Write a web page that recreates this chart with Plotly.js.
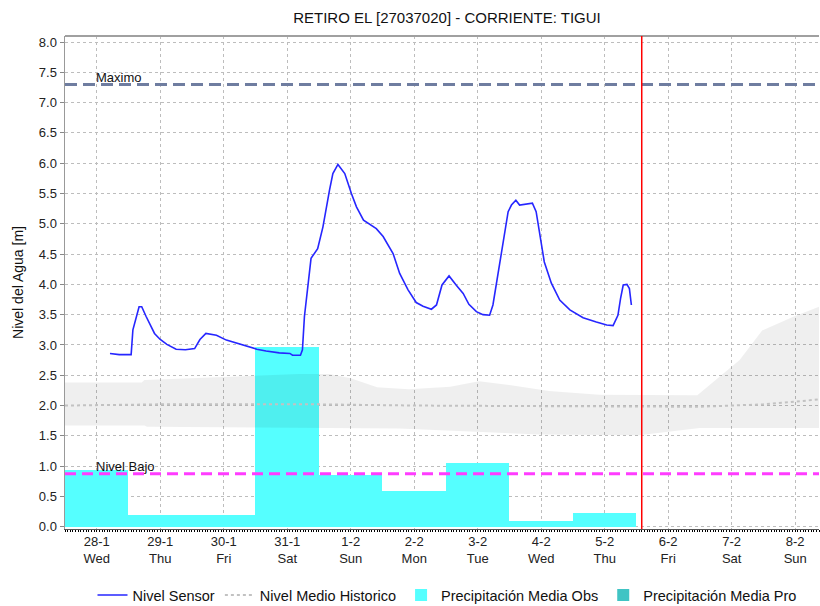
<!DOCTYPE html>
<html>
<head>
<meta charset="utf-8">
<script src="https://cdn.plot.ly/plotly-3.0.1.min.js"></script>
<style>html,body{margin:0;padding:0;background:#fff;}#chart{width:820px;height:606px;}</style>
</head>
<body>
<div id="chart"></div>
<script>
const chartTitle = "RETIRO EL [27037020] - CORRIENTE: TIGUI";
const yTitle = "Nivel del Agua [m]";

const tickDates = ["2015-01-28","2015-01-29","2015-01-30","2015-01-31","2015-02-01","2015-02-02","2015-02-03","2015-02-04","2015-02-05","2015-02-06","2015-02-07","2015-02-08"];
const tickDayMonth = ["28-1","29-1","30-1","31-1","1-2","2-2","3-2","4-2","5-2","6-2","7-2","8-2"];
const tickWeekday = ["Wed","Thu","Fri","Sat","Sun","Mon","Tue","Wed","Thu","Fri","Sat","Sun"];

const sensorTimes = ["2015-01-28 05:00","2015-01-28 08:30","2015-01-28 13:00","2015-01-28 13:40","2015-01-28 16:00","2015-01-28 17:00","2015-01-28 18:40","2015-01-28 21:50","2015-01-29 00:00","2015-01-29 02:30","2015-01-29 06:00","2015-01-29 09:30","2015-01-29 13:00","2015-01-29 15:00","2015-01-29 17:15","2015-01-29 21:15","2015-01-30 01:00","2015-01-30 04:50","2015-01-30 08:40","2015-01-30 12:30","2015-01-30 16:00","2015-01-30 21:00","2015-01-31 01:00","2015-01-31 02:00","2015-01-31 05:00","2015-01-31 05:45","2015-01-31 06:30","2015-01-31 07:10","2015-01-31 08:00","2015-01-31 09:00","2015-01-31 11:30","2015-01-31 13:30","2015-01-31 16:00","2015-01-31 17:15","2015-01-31 19:10","2015-01-31 21:45","2015-02-01 00:15","2015-02-01 02:10","2015-02-01 04:50","2015-02-01 09:40","2015-02-01 12:15","2015-02-01 16:00","2015-02-01 18:30","2015-02-01 21:40","2015-02-02 00:45","2015-02-02 03:20","2015-02-02 06:30","2015-02-02 08:25","2015-02-02 10:30","2015-02-02 13:10","2015-02-02 15:50","2015-02-02 18:30","2015-02-02 20:40","2015-02-02 23:30","2015-02-03 02:00","2015-02-03 04:30","2015-02-03 05:45","2015-02-03 07:00","2015-02-03 08:50","2015-02-03 10:20","2015-02-03 11:30","2015-02-03 12:45","2015-02-03 14:25","2015-02-03 15:50","2015-02-03 18:30","2015-02-03 20:40","2015-02-03 22:05","2015-02-03 23:30","2015-02-04 01:10","2015-02-04 03:50","2015-02-04 07:00","2015-02-04 10:50","2015-02-04 15:50","2015-02-04 20:50","2015-02-05 00:45","2015-02-05 03:10","2015-02-05 05:00","2015-02-05 06:00","2015-02-05 07:00","2015-02-05 08:25","2015-02-05 09:20","2015-02-05 10:05"];
const sensorLevels = [2.86,2.84,2.84,3.25,3.63,3.63,3.47,3.19,3.09,3.01,2.93,2.92,2.94,3.09,3.19,3.16,3.08,3.03,2.98,2.93,2.90,2.87,2.86,2.83,2.83,2.92,3.47,3.74,4.02,4.43,4.59,4.95,5.56,5.83,5.98,5.83,5.50,5.28,5.06,4.92,4.79,4.51,4.18,3.91,3.70,3.64,3.59,3.66,3.99,4.14,3.99,3.85,3.67,3.55,3.50,3.49,3.66,3.99,4.54,4.92,5.20,5.31,5.39,5.31,5.33,5.34,5.20,4.81,4.37,4.02,3.74,3.58,3.45,3.38,3.33,3.32,3.49,3.77,3.99,4.00,3.93,3.66];

const bandUpperTimes = ["2015-01-27 12:00","2015-01-28 17:00","2015-01-28 18:00","2015-01-29 18:00","2015-01-30 12:00","2015-01-31 04:00","2015-01-31 16:00","2015-02-01 00:00","2015-02-01 10:00","2015-02-01 22:00","2015-02-02 13:30","2015-02-03 00:30","2015-02-03 12:00","2015-02-04 03:00","2015-02-04 22:00","2015-02-06 11:00","2015-02-07 03:00","2015-02-07 11:30","2015-02-07 23:30","2015-02-08 09:00"];
const bandUpperLevels = [2.38,2.38,2.42,2.46,2.49,2.52,2.52,2.45,2.30,2.27,2.31,2.40,2.34,2.24,2.18,2.17,2.75,3.24,3.47,3.63];
const bandLowerTimes = ["2015-01-27 12:00","2015-01-28 18:00","2015-01-28 19:00","2015-02-01 18:00","2015-02-02 21:00","2015-02-03 23:30","2015-02-05 13:00","2015-02-06 12:00","2015-02-08 09:00"];
const bandLowerLevels = [1.67,1.67,1.65,1.62,1.57,1.52,1.51,1.63,1.63];

const medianTimes = ["2015-01-27 12:00","2015-01-29 00:00","2015-01-31 12:00","2015-02-02 00:00","2015-02-04 00:00","2015-02-06 12:00","2015-02-07 12:00","2015-02-08 09:00"];
const medianLevels = [2.00,2.02,2.02,2.00,1.99,1.98,2.02,2.10];

const precipObsDates = ["2015-01-28","2015-01-29","2015-01-30","2015-01-31","2015-02-01","2015-02-02","2015-02-03","2015-02-04","2015-02-05"];
const precipObsValues = [0.94,0.19,0.19,2.97,0.85,0.59,1.05,0.10,0.22];
const precipProDates = ["2015-02-06","2015-02-07","2015-02-08"];
const precipProValues = [0,0,0];

const maximoLevel = 7.3;
const bajoLevel = 0.875;
const nowTime = "2015-02-05 14:00";
const xStart = "2015-01-27 12:00";
const xEnd = "2015-02-08 09:00";

const DAY = 86400000;
const font = "Liberation Sans, Arial, sans-serif";

const bandX = bandUpperTimes.concat(bandLowerTimes.slice().reverse());
const bandY = bandUpperLevels.concat(bandLowerLevels.slice().reverse());

const traces = [
  {type:"bar", name:"Precipitación Media Obs", x:precipObsDates, y:precipObsValues, width:DAY,
   marker:{color:"#55FFFF", line:{width:0}}, legendrank:3},
  {type:"bar", name:"Precipitación Media Pro", x:precipProDates, y:precipProValues, width:DAY,
   marker:{color:"#40C4C4", line:{width:0}}, legendrank:4},
  {type:"scatter", mode:"lines", x:bandX, y:bandY, fill:"toself", fillcolor:"rgba(0,0,0,0.063)",
   line:{width:0}, showlegend:false, hoverinfo:"skip"},
  {type:"scatter", mode:"lines", name:"Nivel Medio Historico", x:medianTimes, y:medianLevels,
   line:{color:"#C2C2C2", width:2, dash:"dot"}, legendrank:2},
  {type:"scatter", mode:"lines", name:"Nivel Sensor", x:sensorTimes, y:sensorLevels,
   line:{color:"#2626FF", width:1.6}, legendrank:1}
];

const layout = {
  width:820, height:606,
  margin:{l:65, r:1, t:36, b:77},
  paper_bgcolor:"#fff", plot_bgcolor:"#fff",
  font:{family:font, size:13, color:"#222"},
  title:{text:chartTitle, font:{family:font, size:15, color:"#111"}, xref:"container", x:447/820, xanchor:"center", yref:"container", y:1-18/606, yanchor:"middle"},
  showlegend:true,
  legend:{orientation:"h", xref:"container", x:447/820, xanchor:"center", yref:"container", y:11/606, yanchor:"middle",
          font:{family:font, size:14.5, color:"#111"}, traceorder:"normal", itemwidth:30, tracegroupgap:0},
  bargap:0,
  xaxis:{type:"date", range:[xStart, xEnd], tickvals:tickDates,
         ticktext:tickDayMonth.map((d,i)=>d+"<br>"+tickWeekday[i]),
         tickfont:{family:font, size:13, color:"#222"},
         showgrid:true, gridcolor:"#BDBDBD", griddash:"dot", gridwidth:1,
         ticks:"", showline:true, linecolor:"#555", linewidth:1, mirror:false,
         minor:{dtick:3600000, ticks:"outside", ticklen:2, tickcolor:"#000", tickwidth:1, showgrid:false},
         zeroline:false, fixedrange:true},
  yaxis:{range:[-0.038, 8.1], tickvals:[0,0.5,1,1.5,2,2.5,3,3.5,4,4.5,5,5.5,6,6.5,7,7.5,8], tickformat:".1f",
         tickfont:{family:font, size:13, color:"#222"},
         title:{text:yTitle, font:{family:font, size:14, color:"#111"}, standoff:12},
         showgrid:true, gridcolor:"#BDBDBD", griddash:"dot", gridwidth:1,
         ticks:"outside", ticklen:4, tickcolor:"#888", showline:true, linecolor:"#999", linewidth:1.5,
         zeroline:false, fixedrange:true},
  shapes:[
    {type:"line", xref:"paper", x0:0, x1:1, yref:"paper", y0:1, y1:1, line:{color:"#A0A0A0", width:2}},
    {type:"line", xref:"paper", x0:0, x1:1, yref:"y", y0:maximoLevel, y1:maximoLevel, layer:"above",
     line:{color:"#6F7DA0", width:3, dash:"12px,6px"}},
    {type:"line", xref:"paper", x0:0, x1:1, yref:"y", y0:bajoLevel, y1:bajoLevel, layer:"above",
     line:{color:"#FF3CFF", width:3, dash:"11px,6px"}},
    {type:"line", xref:"x", x0:nowTime, x1:nowTime, yref:"paper", y0:0, y1:1, layer:"above",
     line:{color:"#FF0000", width:1.5}}
  ],
  annotations:[
    {text:"Maximo", x:tickDates[0], y:maximoLevel, xref:"x", yref:"y", xanchor:"left", yanchor:"middle", yshift:7, xshift:-3,
     showarrow:false, font:{family:font, size:13, color:"#111"}},
    {text:"Nivel Bajo", x:tickDates[0], y:bajoLevel, xref:"x", yref:"y", xanchor:"left", yanchor:"middle", yshift:7, xshift:-3,
     showarrow:false, font:{family:font, size:13, color:"#111"}}
  ]
};

Plotly.newPlot("chart", traces, layout, {staticPlot:true, displayModeBar:false});
</script>
</body>
</html>
